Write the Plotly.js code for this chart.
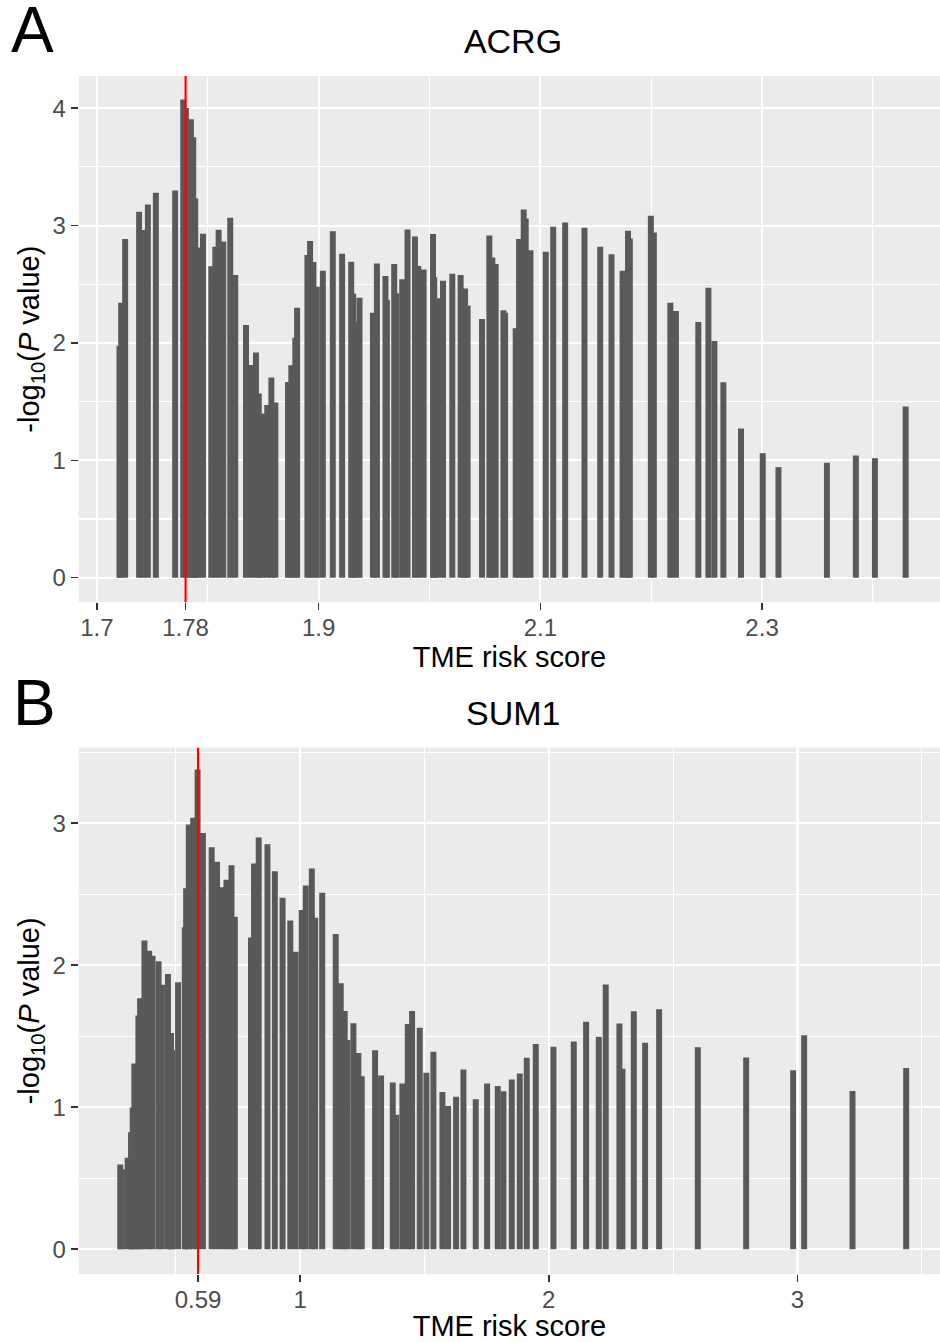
<!DOCTYPE html>
<html>
<head>
<meta charset="utf-8">
<script src="https://cdn.plot.ly/plotly-3.0.1.min.js"></script>
<style>html,body{margin:0;padding:0;background:#fff;}#chart{width:940px;height:1342px;}</style>
</head>
<body>
<div id="chart"></div>
<script>
// ---------- Panel A : ACRG ----------
const scoreA = [1.7204,1.7219,1.7255,1.7381,1.7412,1.7460,1.7532,1.7706,1.7779,1.7803,
  1.7848,1.7869,1.7887,1.7909,1.7957,1.8032,1.8068,1.8098,1.8140,1.8203,
  1.8248,1.8345,1.8393,1.8435,1.8460,1.8490,1.8537,1.8574,1.8610,1.8724,
  1.8754,1.8790,1.8806,1.8899,1.8923,1.8953,1.8984,1.9038,1.9128,1.9212,
  1.9294,1.9312,1.9330,1.9369,1.9490,1.9526,1.9603,1.9616,1.9682,1.9700,
  1.9754,1.9802,1.9869,1.9899,1.9947,2.0032,2.0043,2.0068,2.0122,2.0206,
  2.0281,2.0321,2.0344,2.0474,2.0540,2.0567,2.0597,2.0667,2.0682,2.0778,
  2.0808,2.0850,2.0868,2.0911,2.1049,2.1116,2.1224,2.1398,2.1540,2.1642,
  2.1742,2.1791,2.1807,2.1997,2.2024,2.2173,2.2223,2.2425,2.2516,2.2570,
  2.2651,2.2810,2.3006,2.3148,2.3585,2.3846,2.4018,2.4295];
const logPA = [1.977,2.343,2.885,3.118,2.962,3.18,3.28,3.30,4.074,4.003,
  3.906,3.753,3.231,2.814,2.93,2.653,2.82,2.965,2.865,3.067,
  2.579,2.153,1.813,1.918,1.569,1.398,1.472,1.705,1.492,1.668,
  1.81,2.045,2.30,2.749,2.868,2.689,2.48,2.616,2.953,2.76,
  2.692,2.42,2.18,2.386,2.258,2.678,2.57,2.366,2.672,2.423,
  2.542,2.967,2.908,2.655,2.627,2.928,2.559,2.38,2.53,2.59,
  2.58,2.465,2.32,2.204,2.916,2.729,2.672,2.278,2.258,2.125,
  2.885,3.138,3.061,2.791,2.777,2.99,3.027,2.981,2.82,2.757,
  2.616,2.956,2.891,3.084,2.942,2.343,2.272,2.179,2.471,2.017,
  1.665,1.271,1.061,0.942,0.979,1.041,1.018,1.458];
const cutA = 1.78;
const xTicksA = [1.7, 1.78, 1.9, 2.1, 2.3];
const xTickTextA = ["1.7", "1.78", "1.9", "2.1", "2.3"];
const xMinorA = [1.8, 2.0, 2.2, 2.4];
const yTicksA = [0, 1, 2, 3, 4];

// ---------- Panel B : SUM1 ----------
const scoreB = [0.2770,0.2838,0.3068,0.3203,0.3270,0.3338,0.3500,0.3568,0.3743,0.3932,
  0.4068,0.4311,0.4446,0.4689,0.4811,0.4851,0.5095,0.5365,0.5419,0.5527,
  0.5703,0.5880,0.6095,0.6446,0.6662,0.6878,0.7041,0.7243,0.7378,0.8027,
  0.8149,0.8338,0.8689,0.8986,0.9297,0.9608,0.9824,1.0068,1.0230,1.0473,
  1.0608,1.0890,1.1434,1.1635,1.1796,1.1903,1.2145,1.2346,1.2480,1.3016,
  1.3257,1.3727,1.3874,1.4115,1.4330,1.4504,1.4812,1.5080,1.5362,1.5724,
  1.5952,1.6273,1.6568,1.7064,1.7520,1.7949,1.8177,1.8512,1.8834,1.9115,
  1.9477,2.0188,2.1005,2.1501,2.2011,2.2290,2.2840,2.2962,2.3418,2.3874,
  2.4437,2.5992,2.7936,2.9826,3.0268,3.2212,3.4370];
const logPB = [0.597,0.563,0.645,0.824,0.998,1.308,1.647,1.767,2.175,2.103,
  2.067,2.029,1.862,1.938,1.523,1.404,1.881,2.268,2.542,2.991,
  3.039,3.378,2.932,2.831,2.729,2.550,2.602,2.705,2.342,2.196,
  2.717,2.900,2.853,2.662,2.476,2.316,2.096,2.390,2.561,2.681,
  2.335,2.510,2.220,1.874,1.678,1.473,1.591,1.383,1.218,1.402,
  1.223,1.174,0.947,1.167,1.586,1.678,1.560,1.244,1.391,1.108,
  1.009,1.075,1.266,1.056,1.167,1.150,1.112,1.195,1.237,1.348,
  1.445,1.426,1.464,1.603,1.497,1.865,1.590,1.272,1.676,1.455,
  1.690,1.423,1.350,1.261,1.507,1.115,1.277];
const cutB = 0.59;
const xTicksB = [0.59, 1, 2, 3];
const xTickTextB = ["0.59", "1", "2", "3"];
const xMinorB = [0.5, 1.5, 2.5, 3.5];
const yTicksB = [0, 1, 2, 3];
const yMinor = [0.5, 1.5, 2.5, 3.5];

const FONT = "Liberation Sans, Arial, Helvetica, sans-serif";
const W = 940, H = 1342;
const barColor = "#595959";
const yTitle = "-log<sub>10</sub>(<i>P</i> value)";

const traces = [
  {type: "bar", x: scoreA, y: logPA, width: 0.0054, xaxis: "x", yaxis: "y",
   marker: {color: barColor, line: {width: 0}}, hoverinfo: "x+y"},
  {type: "bar", x: scoreB, y: logPB, width: 0.024, xaxis: "x2", yaxis: "y2",
   marker: {color: barColor, line: {width: 0}}, hoverinfo: "x+y"}
];

function xAxis(range, vals, text, minor, anchor) {
  return {
    domain: [78.7 / W, 1], range: range, anchor: anchor,
    tickmode: "array", tickvals: vals, ticktext: text,
    ticks: "outside", ticklen: 7, tickwidth: 1.6, tickcolor: "#333333",
    ticklabelstandoff: -3,
    tickfont: {family: FONT, size: 24, color: "#4D4D4D"},
    showgrid: true, gridcolor: "#FFFFFF", gridwidth: 2.2, zeroline: false, showline: false,
    minor: {tickmode: "array", tickvals: minor, showgrid: true, gridcolor: "#FFFFFF", gridwidth: 1.1, ticks: ""},
    title: {text: "TME risk score", font: {family: FONT, size: 29, color: "#000000"}, standoff: 3},
    fixedrange: true
  };
}
function yAxis(domain, range, vals, anchor) {
  return {
    domain: domain, range: range, anchor: anchor,
    tickmode: "array", tickvals: vals,
    ticks: "outside", ticklen: 7, tickwidth: 1.6, tickcolor: "#333333",
    tickfont: {family: FONT, size: 24, color: "#4D4D4D"},
    showgrid: true, gridcolor: "#FFFFFF", gridwidth: 2.2, zeroline: false, showline: false,
    minor: {tickmode: "array", tickvals: yMinor, showgrid: true, gridcolor: "#FFFFFF", gridwidth: 1.1, ticks: ""},
    title: {text: yTitle, font: {family: FONT, size: 29, color: "#000000"}, standoff: 4},
    fixedrange: true
  };
}

const layout = {
  width: W, height: H,
  margin: {l: 0, r: 0, t: 0, b: 0},
  paper_bgcolor: "#FFFFFF", plot_bgcolor: "#EBEBEB",
  showlegend: false, barmode: "overlay",
  font: {family: FONT},
  title: {text: "ACRG", font: {family: FONT, size: 34, color: "#000000"},
          x: 513 / W, xanchor: "center", xref: "paper", y: 1 - 41 / H, yanchor: "middle", yref: "container"},
  xaxis: xAxis([1.6836, 2.4605], xTicksA, xTickTextA, xMinorA, "y"),
  yaxis: yAxis([1 - 602.3 / H, 1 - 76 / H], [-0.21, 4.275], yTicksA, "x"),
  xaxis2: xAxis([0.110, 3.573], xTicksB, xTickTextB, xMinorB, "y2"),
  yaxis2: yAxis([1 - 1274 / H, 1 - 747.7 / H], [-0.174, 3.532], yTicksB, "x2"),
  shapes: [
    {type: "line", xref: "x", yref: "y domain", x0: cutA, x1: cutA, y0: 0, y1: 1,
     line: {color: "#FF0000", width: 2.2}, layer: "above"},
    {type: "line", xref: "x2", yref: "y2 domain", x0: cutB, x1: cutB, y0: 0, y1: 1,
     line: {color: "#FF0000", width: 2.2}, layer: "above"}
  ],
  annotations: [
    {text: "A", xref: "paper", yref: "paper", x: 9 / W, y: 1 - 30 / H, xanchor: "left", yanchor: "middle",
     showarrow: false, font: {family: FONT, size: 64, color: "#000000"}},
    {text: "B", xref: "paper", yref: "paper", x: 11 / W, y: 1 - 703 / H, xanchor: "left", yanchor: "middle",
     showarrow: false, font: {family: FONT, size: 64, color: "#000000"}},
    {text: "SUM1", xref: "paper", yref: "paper", x: 513 / W, y: 1 - 713 / H, xanchor: "center", yanchor: "middle",
     showarrow: false, font: {family: FONT, size: 34, color: "#000000"}}
  ]
};

Plotly.newPlot("chart", traces, layout, {staticPlot: true, displayModeBar: false});
</script>
</body>
</html>
